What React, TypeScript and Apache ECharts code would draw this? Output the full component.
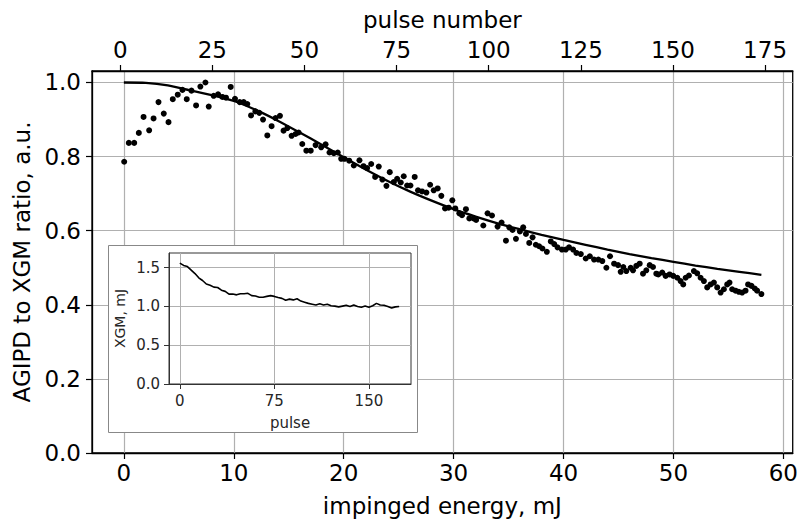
import React, { useEffect, useRef } from "react";
import * as echarts from "echarts";

// Scatter: impinged energy (mJ) vs AGIPD/XGM ratio
const energy = [
  0.03, 0.45, 0.94, 1.36, 1.79, 2.3, 2.7, 3.15, 3.63, 4.06, 4.45, 4.9, 5.33, 5.72, 6.15, 6.57, 6.96, 7.42, 7.72, 8.17,
  8.57, 8.96, 9.29, 9.72, 10.11, 10.54, 10.9, 11.23, 11.57, 11.96, 12.32, 12.66, 13.05, 13.44, 13.8, 14.2, 14.53, 14.87, 15.26, 15.62,
  15.9, 16.23, 16.6, 17.0, 17.44, 17.95, 18.35, 18.71, 19.1, 19.46, 19.77, 20.07, 20.5, 20.92, 21.43, 21.8, 22.13, 22.5, 22.86, 23.19,
  23.52, 23.89, 24.19, 24.55, 24.86, 25.19, 25.46, 25.77, 26.07, 26.46, 26.76, 27.13, 27.52, 27.86, 28.19, 28.55, 28.88, 29.22, 29.55, 29.88,
  30.15, 30.52, 30.76, 31.12, 31.43, 31.82, 32.05, 32.7, 33.09, 33.49, 34.0, 34.36, 34.76, 35.06, 35.36, 35.67, 36.03, 36.33, 36.58, 36.88,
  37.18, 37.48, 37.78, 38.08, 38.48, 38.84, 39.15, 39.45, 39.85, 40.2, 40.5, 40.87, 41.17, 41.57, 42.02, 42.39, 42.78, 43.17, 43.53, 43.9,
  44.23, 44.6, 44.96, 45.2, 45.44, 45.71, 46.11, 46.32, 46.62, 46.93, 47.23, 47.53, 47.84, 48.14, 48.44, 48.62, 48.98, 49.29, 49.65, 49.98,
  50.35, 50.65, 50.89, 51.11, 51.41, 51.86, 52.16, 52.47, 52.77, 53.07, 53.38, 53.68, 53.98, 54.29, 54.59, 54.89, 55.1, 55.34, 55.65, 55.95,
  56.25, 56.56, 56.79, 57.1, 57.4, 57.61, 58.0,
];
const ratio = [
  0.786, 0.837, 0.837, 0.864, 0.907, 0.871, 0.903, 0.947, 0.916, 0.893, 0.955, 0.967, 0.98, 0.955, 0.978, 0.938, 0.989, 1.0, 0.935, 0.964,
  0.968, 0.961, 0.959, 0.988, 0.956, 0.947, 0.947, 0.942, 0.911, 0.922, 0.918, 0.9, 0.857, 0.882, 0.904, 0.91, 0.87, 0.877, 0.856, 0.861,
  0.865, 0.834, 0.816, 0.816, 0.831, 0.825, 0.833, 0.811, 0.809, 0.811, 0.794, 0.794, 0.789, 0.776, 0.79, 0.774, 0.769, 0.78, 0.745, 0.773,
  0.738, 0.721, 0.758, 0.731, 0.74, 0.73, 0.747, 0.722, 0.722, 0.745, 0.709, 0.706, 0.703, 0.724, 0.709, 0.714, 0.694, 0.66, 0.662, 0.682,
  0.66, 0.647, 0.642, 0.658, 0.633, 0.633, 0.629, 0.614, 0.647, 0.641, 0.611, 0.622, 0.573, 0.609, 0.602, 0.578, 0.598, 0.609, 0.591, 0.567,
  0.582, 0.562, 0.558, 0.552, 0.543, 0.571, 0.564, 0.555, 0.549, 0.549, 0.555, 0.549, 0.54, 0.537, 0.525, 0.531, 0.522, 0.522, 0.518, 0.5,
  0.531, 0.511, 0.507, 0.489, 0.502, 0.491, 0.5, 0.493, 0.505, 0.511, 0.484, 0.493, 0.507, 0.502, 0.484, 0.482, 0.487, 0.478, 0.482, 0.478,
  0.473, 0.464, 0.455, 0.473, 0.479, 0.491, 0.485, 0.473, 0.464, 0.447, 0.455, 0.46, 0.447, 0.433, 0.442, 0.455, 0.46, 0.442, 0.438, 0.435,
  0.433, 0.438, 0.455, 0.451, 0.444, 0.438, 0.429,
];

// Fit curve
const fitEnergy = [0, 2, 4, 6, 8, 10, 12, 14, 16, 18, 20, 22, 24, 26, 28, 30, 32, 34, 36, 38, 40, 42, 44, 46, 48, 50, 52, 54, 56, 58];
const fitRatio = [
  1.0, 0.999, 0.992, 0.979, 0.966, 0.95, 0.926, 0.897, 0.865, 0.832, 0.798, 0.765, 0.734, 0.706, 0.681, 0.658, 0.638, 0.62, 0.604, 0.589,
  0.575, 0.562, 0.549, 0.537, 0.526, 0.516, 0.506, 0.497, 0.489, 0.481,
];

// Inset: XGM energy per pulse
const xgmPulse = [
  0, 3, 6, 9, 12, 15, 18, 21, 24, 27, 30, 33, 36, 39, 42, 45, 48, 51, 54, 57, 60, 63, 66, 69, 72, 75, 78, 81, 84, 87,
  90, 93, 96, 99, 102, 105, 108, 111, 114, 117, 120, 123, 126, 129, 132, 135, 138, 141, 144, 147, 150, 153, 156, 159, 162, 165, 168, 171, 174,
];
const xgmEnergy = [
  1.56, 1.53, 1.515, 1.47, 1.425, 1.37, 1.335, 1.29, 1.275, 1.25, 1.245, 1.21, 1.195, 1.16, 1.16, 1.15, 1.165, 1.165, 1.17, 1.14,
  1.135, 1.12, 1.12, 1.13, 1.14, 1.13, 1.115, 1.105, 1.08, 1.095, 1.085, 1.1, 1.07, 1.055, 1.04, 1.03, 1.02, 1.035, 1.02, 1.03,
  1.01, 1.005, 0.995, 1.005, 1.015, 1.0, 1.02, 1.0, 0.99, 1.005, 0.99, 1.01, 1.04, 1.02, 1.015, 1.0, 0.98, 0.995, 1.0,
];

const energyTicks = [0, 10, 20, 30, 40, 50, 60];
const pulseTicks = [0, 25, 50, 75, 100, 125, 150, 175];
const ratioTicks = [0, 0.2, 0.4, 0.6, 0.8, 1.0];
const insetPulseTicks = [0, 75, 150];
const insetXgmTicks = [0, 0.5, 1.0, 1.5];

const FONT = "DejaVu Sans";
const MAIN_FS = 23;
const INSET_FS = 15;
const GRID_COLOR = "#b0b0b0";

export default function App() {
  const ref = useRef<HTMLDivElement>(null);

  useEffect(() => {
    if (!ref.current) return;
    const chart = echarts.init(ref.current, undefined, { renderer: "svg" });

    const mainLabel = { fontFamily: FONT, fontSize: MAIN_FS, color: "#000" };
    const insetLabel = { fontFamily: FONT, fontSize: INSET_FS, color: "#262626" };

    const option: any = {
      animation: false,
      backgroundColor: "#fff",
      grid: [
        { left: 92, top: 71, width: 701, height: 386, show: true, borderColor: "#000", borderWidth: 1.3, backgroundColor: "transparent", containLabel: false },
        { left: 169, top: 253, width: 242, height: 131, show: true, borderColor: "#333", borderWidth: 1, backgroundColor: "transparent", z: 3, containLabel: false },
      ],
      graphic: [
        {
          type: "rect",
          z: 1,
          shape: { x: 108.5, y: 245.5, width: 309, height: 187 },
          style: { fill: "#fff", stroke: "#888", lineWidth: 1 },
          silent: true,
        },
      ],
      xAxis: [
        {
          gridIndex: 0,
          type: "value",
          position: "bottom",
          min: -2.9,
          max: 60.85,
          axisLine: { show: true, onZero: false, lineStyle: { color: "#000", width: 1.3 } },
          axisTick: { show: true, customValues: energyTicks, length: 6, lineStyle: { color: "#000", width: 1.2 } },
          axisLabel: { customValues: energyTicks, margin: 8, ...mainLabel },
          splitLine: { show: true, lineStyle: { color: GRID_COLOR, width: 1.2 } },
          name: "impinged energy, mJ",
          nameLocation: "middle",
          nameGap: 41,
          nameTextStyle: { ...mainLabel },
        },
        {
          gridIndex: 0,
          type: "value",
          position: "top",
          min: -7.67,
          max: 182.5,
          axisLine: { show: true, onZero: false, lineStyle: { color: "#000", width: 1.3 } },
          axisTick: { show: true, customValues: pulseTicks, length: 6, lineStyle: { color: "#000", width: 1.2 } },
          axisLabel: { customValues: pulseTicks, margin: 10, ...mainLabel },
          splitLine: { show: false },
          name: "pulse number",
          nameLocation: "middle",
          nameGap: 40,
          nameTextStyle: { ...mainLabel },
        },
        {
          gridIndex: 1,
          type: "value",
          position: "bottom",
          min: -8.6,
          max: 183.4,
          z: 3,
          axisLine: { show: true, onZero: false, lineStyle: { color: "#333", width: 1 } },
          axisTick: { show: true, customValues: insetPulseTicks, length: 5, lineStyle: { color: "#333", width: 1 } },
          axisLabel: { customValues: insetPulseTicks, margin: 9, ...insetLabel },
          splitLine: { show: true, lineStyle: { color: GRID_COLOR, width: 1 } },
          name: "pulse",
          nameLocation: "middle",
          nameGap: 31,
          nameTextStyle: { ...insetLabel },
        },
      ],
      yAxis: [
        {
          gridIndex: 0,
          type: "value",
          min: 0,
          max: 1.031,
          axisLine: { show: true, onZero: false, lineStyle: { color: "#000", width: 1.3 } },
          axisTick: { show: true, customValues: ratioTicks, length: 6, lineStyle: { color: "#000", width: 1.2 } },
          axisLabel: { customValues: ratioTicks, margin: 11, formatter: (v: number) => v.toFixed(1), ...mainLabel },
          splitLine: { show: true, lineStyle: { color: GRID_COLOR, width: 1.2 } },
          name: "AGIPD to XGM ratio, a.u.",
          nameLocation: "middle",
          nameRotate: 90,
          nameGap: 57,
          nameTextStyle: { ...mainLabel },
        },
        {
          gridIndex: 1,
          type: "value",
          min: 0,
          max: 1.69,
          z: 3,
          axisLine: { show: true, onZero: false, lineStyle: { color: "#333", width: 1 } },
          axisTick: { show: true, customValues: insetXgmTicks, length: 5, lineStyle: { color: "#333", width: 1 } },
          axisLabel: { customValues: insetXgmTicks, margin: 9, formatter: (v: number) => v.toFixed(1), ...insetLabel },
          splitLine: { show: true, lineStyle: { color: GRID_COLOR, width: 1 } },
          name: "XGM, mJ",
          nameLocation: "middle",
          nameRotate: 90,
          nameGap: 42,
          nameTextStyle: { ...insetLabel, fontSize: 14 },
        },
      ],
      series: [
        {
          type: "scatter",
          xAxisIndex: 0,
          yAxisIndex: 0,
          data: energy.map((e, i) => [e, ratio[i]]),
          symbol: "circle",
          symbolSize: 6,
          itemStyle: { color: "#000", opacity: 1 },
          z: 2,
          silent: true,
        },
        {
          type: "line",
          xAxisIndex: 0,
          yAxisIndex: 0,
          data: fitEnergy.map((e, i) => [e, fitRatio[i]]),
          showSymbol: false,
          smooth: 0.25,
          lineStyle: { color: "#000", width: 2.3 },
          z: 3,
          silent: true,
        },
        {
          type: "line",
          xAxisIndex: 2,
          yAxisIndex: 1,
          data: xgmPulse.map((p, i) => [p, xgmEnergy[i]]),
          showSymbol: false,
          lineStyle: { color: "#000", width: 1.6 },
          z: 5,
          silent: true,
        },
      ],
    };

    chart.setOption(option);
    return () => chart.dispose();
  }, []);

  return (
    <div
      ref={ref}
      style={{ position: "absolute", left: 0, top: 0, width: 801, height: 522, background: "#fff" }}
    />
  );
}
